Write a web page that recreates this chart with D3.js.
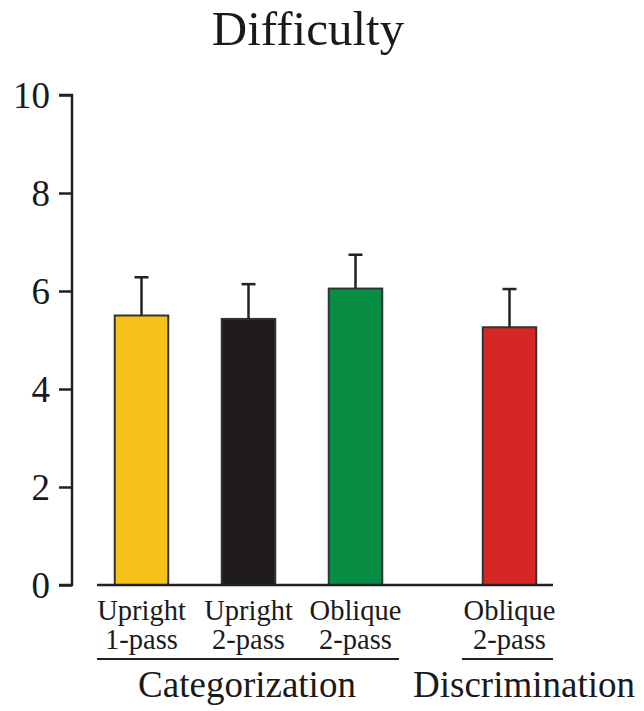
<!DOCTYPE html>
<html>
<head>
<meta charset="utf-8">
<script src="https://cdn.jsdelivr.net/npm/d3@7"></script>
<style>
  html, body { margin: 0; padding: 0; background: #fff; }
  svg { display: block; }
  text { font-family: "Liberation Serif", "Times New Roman", serif; fill: #1a1a1a; }
</style>
</head>
<body>
<svg id="chart" width="644" height="711"></svg>
<script>
// Mean difficulty ratings with error bars
const conditionsLine1 = ["Upright", "Upright", "Oblique", "Oblique"];
const conditionsLine2 = ["1-pass", "2-pass", "2-pass", "2-pass"];
const groups = ["Categorization", "Categorization", "Categorization", "Discrimination"];
const means = [5.5, 5.43, 6.05, 5.26];
const errors = [0.78, 0.71, 0.69, 0.78];
const barColors = ["#f5c21a", "#1f1b1b", "#088d45", "#d72626"];
const yTicks = [0, 2, 4, 6, 8, 10];
const groupNames = ["Categorization", "Discrimination"];

const svg = d3.select("#chart");
const ink = "#222";

const y = d3.scaleLinear().domain([0, 10]).range([585, 95]);

// Bars sit in equal slots; the second group is pushed right by an extra gap
const slot = d3.scaleBand().domain(d3.range(means.length)).range([89, 517]).paddingInner(0.5).paddingOuter(0.25);
const groupGap = 47;
const xLeft = i => slot(i) - 1 + (groups[i] === groupNames[1] ? groupGap : 0);
const xMid = i => xLeft(i) + slot.bandwidth() / 2;

// Title
svg.append("text")
  .attr("x", 308).attr("y", 45)
  .attr("text-anchor", "middle")
  .style("font-size", "49px")
  .text("Difficulty");

// Y axis
const yAxis = d3.axisLeft(y).tickValues(yTicks).tickFormat(d3.format("d")).tickSize(13).tickPadding(9);
const gy = svg.append("g").attr("transform", "translate(72,0)").call(yAxis);
gy.select(".domain").attr("stroke", ink).attr("stroke-width", 2.5).attr("d", `M-13,${y(10)}H0V${y(0)}H-13`);
gy.selectAll(".tick line").attr("stroke", ink).attr("stroke-width", 2.5);
gy.selectAll(".tick text")
  .style("font-family", "'Liberation Serif', 'Times New Roman', serif")
  .style("font-size", "37px").attr("fill", "#1a1a1a").attr("dy", "0.34em");

// Bars
const idx = d3.range(means.length);
svg.append("g").selectAll("rect").data(idx).join("rect")
  .attr("x", i => xLeft(i))
  .attr("y", i => y(means[i]))
  .attr("width", slot.bandwidth())
  .attr("height", i => y(0) - y(means[i]))
  .attr("fill", i => barColors[i])
  .attr("stroke", "#333").attr("stroke-width", 2);

// Error bars (upper only)
const capHalf = 7;
const eb = svg.append("g").attr("stroke", ink).attr("stroke-width", 2.5);
eb.selectAll("line.stem").data(idx).join("line").attr("class", "stem")
  .attr("x1", i => xMid(i)).attr("x2", i => xMid(i))
  .attr("y1", i => y(means[i])).attr("y2", i => y(means[i] + errors[i]));
eb.selectAll("line.cap").data(idx).join("line").attr("class", "cap")
  .attr("x1", i => xMid(i) - capHalf).attr("x2", i => xMid(i) + capHalf)
  .attr("y1", i => y(means[i] + errors[i])).attr("y2", i => y(means[i] + errors[i]));

// Baseline
svg.append("line")
  .attr("x1", 97).attr("x2", 553).attr("y1", y(0)).attr("y2", y(0))
  .attr("stroke", ink).attr("stroke-width", 2.5);

// Condition labels
const lab = svg.append("g").attr("text-anchor", "middle").style("font-size", "28.5px");
lab.selectAll("text.l1").data(idx).join("text").attr("class", "l1")
  .attr("x", i => xMid(i)).attr("y", 620).text(i => conditionsLine1[i]);
lab.selectAll("text.l2").data(idx).join("text").attr("class", "l2")
  .attr("x", i => xMid(i)).attr("y", 649).text(i => conditionsLine2[i]);

// Group brackets and names
const groupSpans = [
  { name: groupNames[0], x1: 97, x2: 399 },
  { name: groupNames[1], x1: 462, x2: 553 }
];
svg.append("g").selectAll("line").data(groupSpans).join("line")
  .attr("x1", d => d.x1).attr("x2", d => d.x2).attr("y1", 659).attr("y2", 659)
  .attr("stroke", ink).attr("stroke-width", 2);
svg.append("g").attr("text-anchor", "middle").style("font-size", "37px")
  .selectAll("text").data(groupSpans).join("text")
  .attr("x", (d, i) => i === 0 ? 247 : 524).attr("y", 697)
  .text(d => d.name);
</script>
</body>
</html>
